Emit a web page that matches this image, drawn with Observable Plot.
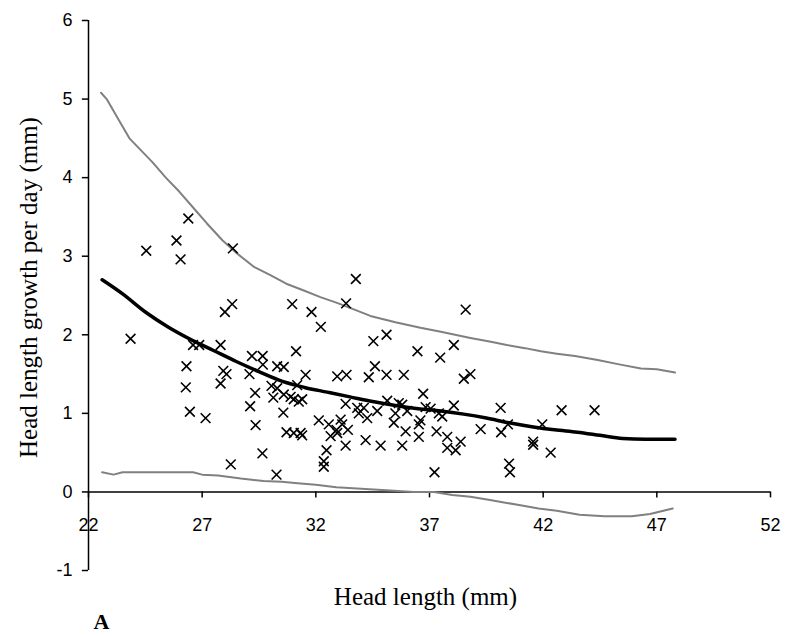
<!DOCTYPE html>
<html>
<head>
<meta charset="utf-8">
<script src="https://cdn.jsdelivr.net/npm/d3@7"></script>
<script src="https://cdn.jsdelivr.net/npm/@observablehq/plot@0.6"></script>
<style>
  html, body { margin: 0; padding: 0; background: #fff; }
  #chart { width: 790px; height: 636px; }
</style>
</head>
<body>
<div id="chart"></div>
<script>
// Observed points: head length (mm) and head length growth per day (mm)
const pointX = [23.85,24.54,25.87,26.05,26.39,28.35,28.32,28.0,26.6,26.87,27.81,26.31,26.28,26.46,27.15,27.93,28.07,27.81,
  29.19,29.66,29.67,30.30,29.08,29.33,29.11,29.35,29.65,28.26,30.27,30.05,30.13,30.59,30.3,31.18,30.59,30.89,31.03,31.25,31.4,
  30.57,30.71,31.03,31.33,31.4,30.96,31.81,32.22,33.33,33.76,31.13,31.55,32.94,33.35,34.33,35.11,35.87,34.53,35.11,34.60,36.47,
  37.47,38.07,38.59,38.51,38.8,36.72,38.07,33.31,33.82,34.11,33.89,34.26,34.70,32.13,32.57,33.09,33.16,32.91,32.94,33.41,32.65,
  34.19,34.85,33.31,32.47,32.35,32.35,35.14,35.65,35.80,35.50,36.02,36.83,37.05,37.41,37.56,35.43,36.60,36.53,35.95,37.31,36.53,
  37.78,37.78,38.37,38.15,35.80,39.25,40.13,40.15,40.45,37.22,40.5,40.54,41.96,41.56,41.56,42.33,42.81,44.26];
const pointY = [1.95,3.07,3.20,2.96,3.48,3.10,2.39,2.29,1.87,1.87,1.87,1.60,1.33,1.02,0.94,1.54,1.50,1.38,
  1.73,1.73,1.62,1.60,1.50,1.26,1.09,0.85,0.49,0.35,0.22,1.35,1.20,1.59,1.32,1.36,1.24,1.21,1.18,1.15,1.18,
  1.01,0.76,0.75,0.75,0.72,2.39,2.29,2.10,2.40,2.71,1.79,1.49,1.47,1.49,1.46,1.49,1.49,1.92,2.00,1.60,1.79,
  1.71,1.87,2.32,1.44,1.50,1.25,1.10,1.12,1.07,1.07,1.00,0.94,1.03,0.91,0.86,0.92,0.86,0.79,0.75,0.79,0.71,
  0.66,0.59,0.59,0.53,0.39,0.32,1.16,1.13,1.11,1.00,1.03,1.08,1.06,1.00,0.96,0.88,0.91,0.86,0.77,0.77,0.70,
  0.70,0.56,0.64,0.53,0.59,0.80,1.07,0.76,0.86,0.25,0.36,0.25,0.86,0.64,0.60,0.50,1.04,1.04];

// Fitted curve (black)
const fitX = [22.6,23.5,24.5,25.5,26.5,27.5,28.5,29.5,30.5,31.5,32.5,33.5,34.5,35.5,36.5,37.5,38.5,39.5,40.5,41.5,42.5,43.5,44.5,45.5,46.5,47.8];
const fitY = [2.70,2.52,2.29,2.10,1.94,1.80,1.66,1.53,1.41,1.33,1.27,1.21,1.15,1.10,1.06,1.03,0.99,0.94,0.88,0.83,0.79,0.76,0.72,0.68,0.67,0.67];

// Upper band (grey)
const upperX = [22.55,22.8,23.3,23.8,24.3,24.8,25.4,26.0,26.6,27.2,27.9,28.6,29.3,30.0,30.7,31.5,32.2,32.9,33.7,34.4,35.5,36.6,37.5,38.8,39.7,40.4,41.2,41.9,42.6,43.4,44.4,45.4,46.3,47.0,47.8];
const upperY = [5.08,5.0,4.75,4.5,4.35,4.2,4.0,3.82,3.62,3.42,3.2,3.02,2.86,2.76,2.65,2.56,2.48,2.41,2.32,2.24,2.16,2.09,2.04,1.96,1.91,1.87,1.83,1.79,1.76,1.73,1.68,1.62,1.57,1.56,1.52];

// Lower band (grey)
const lowerX = [22.6,23.1,23.5,26.6,27.0,27.7,28.7,29.7,30.5,31.2,32.0,32.9,34.0,35.1,36.3,37.2,38.0,38.8,39.6,40.4,41.0,41.8,42.6,43.6,44.7,45.9,46.7,47.7];
const lowerY = [0.25,0.22,0.25,0.25,0.22,0.21,0.17,0.14,0.13,0.11,0.09,0.06,0.04,0.02,0.0,0.0,-0.04,-0.06,-0.10,-0.14,-0.17,-0.21,-0.24,-0.29,-0.31,-0.31,-0.28,-0.21];

const xTicks = [22,27,32,37,42,47,52];
const yTicks = [-1,0,1,2,3,4,5,6];
const xTitle = "Head length (mm)";
const yTitle = "Head length growth per day (mm)";
const panelLabel = "A";

const points = pointX.map((x, i) => ({x, y: pointY[i]}));
const fit = fitX.map((x, i) => ({x, y: fitY[i]}));
const upper = upperX.map((x, i) => ({x, y: upperY[i]}));
const lower = lowerX.map((x, i) => ({x, y: lowerY[i]}));

const X0 = 22, X1 = 52, Y0 = -1, Y1 = 6;
const xTickRows = xTicks.map(x => ({x, y1: 0, y2: -0.076, label: String(x)}));
const yTickRows = yTicks.map(y => ({y, x1: X0, x2: X0 - 0.27, label: String(y)}));

const serif = "Liberation Serif, Times New Roman, serif";

const chart = Plot.plot({
  width: 790,
  height: 636,
  marginLeft: 88,
  marginRight: 20,
  marginTop: 20,
  marginBottom: 66,
  style: {fontFamily: "Liberation Sans, Arial, sans-serif", fontSize: "18px", background: "#fff", color: "#000"},
  x: {type: "linear", domain: [X0, X1], axis: null},
  y: {type: "linear", domain: [Y0, Y1], axis: null},
  marks: [
    // y axis line, ticks and labels
    Plot.ruleX([{x: X0, y1: Y0, y2: Y1}], {x: "x", y1: "y1", y2: "y2", stroke: "#000", strokeWidth: 1.5}),
    Plot.ruleY(yTickRows, {y: "y", x1: "x1", x2: "x2", stroke: "#000", strokeWidth: 1.5}),
    Plot.text(yTickRows, {x: "x1", y: "y", text: "label", textAnchor: "end", dx: -16, fontSize: 18, fill: "#000"}),
    // x axis at y = 0, ticks and labels
    Plot.ruleY([{y: 0, x1: X0, x2: X1}], {y: "y", x1: "x1", x2: "x2", stroke: "#000", strokeWidth: 1.5}),
    Plot.ruleX(xTickRows, {x: "x", y1: "y1", y2: "y2", stroke: "#000", strokeWidth: 1.5}),
    Plot.text(xTickRows, {x: "x", y: "y1", text: "label", dy: 26, lineAnchor: "top", fontSize: 18, fill: "#000"}),
    // bands and fit
    Plot.line(upper, {x: "x", y: "y", stroke: "#808080", strokeWidth: 2}),
    Plot.line(lower, {x: "x", y: "y", stroke: "#808080", strokeWidth: 2}),
    Plot.line(fit, {x: "x", y: "y", stroke: "#000", strokeWidth: 3.5, curve: "monotone-x"}),
    // points
    Plot.dot(points, {x: "x", y: "y", symbol: "times", r: 4.5, stroke: "#000", strokeWidth: 1.6}),
    // titles
    Plot.text([yTitle], {frameAnchor: "left", textAnchor: "middle", rotate: -90, dx: -60, dy: -8, fontFamily: serif, fontSize: 25, fill: "#000"}),
    Plot.text([xTitle], {frameAnchor: "bottom", textAnchor: "middle", dx: -4, dy: 34, fontFamily: serif, fontSize: 25, fill: "#000"}),
    Plot.text([panelLabel], {frameAnchor: "bottom-left", textAnchor: "start", dx: 5, dy: 58, fontFamily: serif, fontWeight: "bold", fontSize: 22, fill: "#000"})
  ]
});
document.getElementById("chart").appendChild(chart);
</script>
</body>
</html>
